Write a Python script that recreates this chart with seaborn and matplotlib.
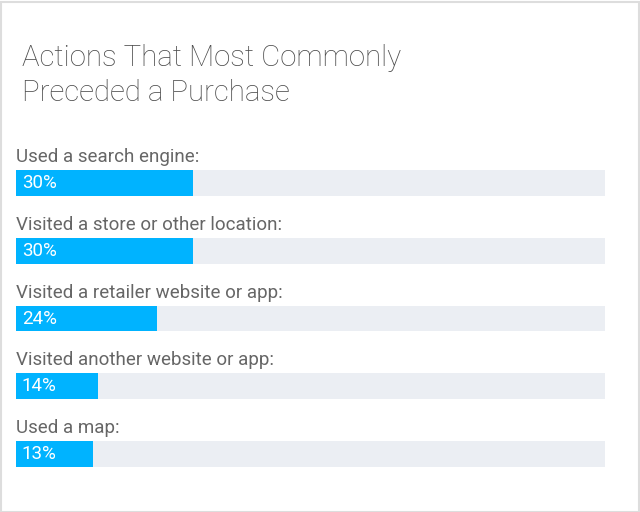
import matplotlib
matplotlib.use("Agg")
import matplotlib.pyplot as plt
import seaborn as sns
import pandas as pd
from matplotlib.patches import Rectangle
from matplotlib import transforms

categories = ["Used a search engine:", "Visited a store or other location:",
              "Visited a retailer website or app:", "Visited another website or app:",
              "Used a map:"]
values = [30, 30, 24, 14, 13]
value_labels = ["30%", "30%", "24%", "14%", "13%"]
track_max = 100

sns.set_theme(style="white")
plt.rcParams['font.family'] = ['Roboto', 'DejaVu Sans']

W, H = 640, 512
fig = plt.figure(figsize=(6.4, 5.12), dpi=100)
fig.patch.set_facecolor("white")

x0, x1 = 16, 605
ytop, ybot = 170, 467
ax = fig.add_axes([x0 / W, 1 - ybot / H, (x1 - x0) / W, (ybot - ytop) / H])

df = pd.DataFrame({"cat": categories, "val": values, "track": [track_max] * len(values)})
bw = 0.38
sns.barplot(data=df, y="cat", x="track", color="#EBEEF3", width=bw, ax=ax,
            orient="h", saturation=1, edgecolor="none")
sns.barplot(data=df, y="cat", x="val", color="#00B3FF", width=bw, ax=ax,
            orient="h", saturation=1, edgecolor="none")
ax.set_xlim(0, track_max)
ax.set_ylim(len(values) - 1 + bw / 2, -bw / 2)
ax.axis("off")

up = transforms.offset_copy(ax.transData, fig=fig, x=0, y=8, units="dots")
for i, (c, lab) in enumerate(zip(categories, value_labels)):
    ax.text(0, i - bw / 2, c, transform=up, ha="left", va="baseline",
            fontsize=13.5, color="#666666")
    ax.text(1.0, i, lab, ha="left", va="center", fontsize=13.5, color="white")

fig.text(22 / W, 1 - 66 / H, "Actions That Most Commonly", ha="left", va="baseline",
         fontsize=21.2, color="#4A4A4A", fontweight="light")
fig.text(22 / W, 1 - 101 / H, "Preceded a Purchase", ha="left", va="baseline",
         fontsize=21.2, color="#4A4A4A", fontweight="light")

fig.patches.append(Rectangle((0.5 / W, 0.5 / H), 1 - 2 / W, 1 - 2 / H,
                             transform=fig.transFigure, fill=False,
                             edgecolor="#DDDDDD", lw=1.5))

fig.savefig("out.png", dpi=100)
